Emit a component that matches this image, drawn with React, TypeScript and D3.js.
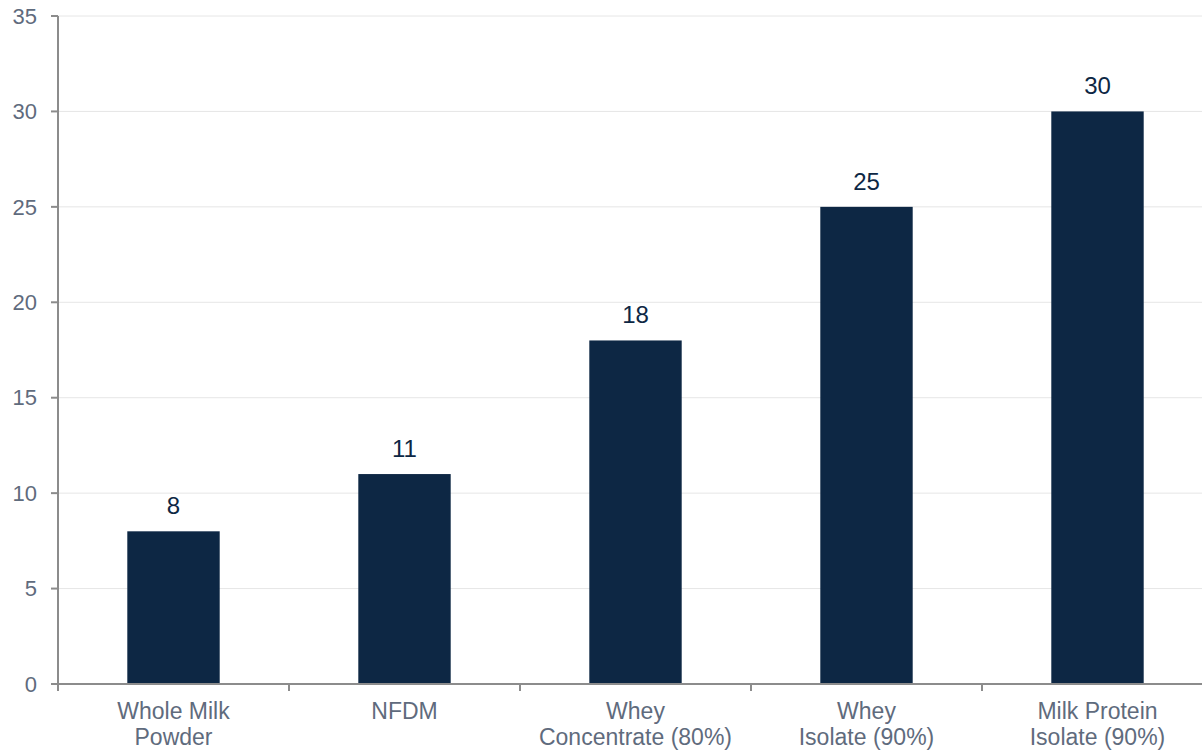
import { useEffect, useRef } from 'react';
import * as d3 from 'd3';

const categories = [
  ['Whole Milk', 'Powder'],
  ['NFDM'],
  ['Whey', 'Concentrate (80%)'],
  ['Whey', 'Isolate (90%)'],
  ['Milk Protein', 'Isolate (90%)'],
];
const values = [8, 11, 18, 25, 30];
const yTicks = [0, 5, 10, 15, 20, 25, 30, 35];

const W = 1202;
const H = 751;

export default function App() {
  const svgRef = useRef<SVGSVGElement>(null);

  useEffect(() => {
    if (!svgRef.current) return;
    const svg = d3.select(svgRef.current);
    svg.selectAll('*').remove();

    const left = 58;
    const top = 16;
    const bottom = 684;

    const keys = categories.map(c => c.join(' '));
    const x = d3.scaleBand<string>()
      .domain(keys)
      .range([left, left + 231 * 5])
      .paddingInner(0.6)
      .paddingOuter(0.3);
    const y = d3.scaleLinear().domain([0, 35]).range([bottom, top]);

    const font = 'Liberation Sans, Arial, sans-serif';
    const grey = '#5f6b7d';
    const axisCol = '#8c8c8c';

    // gridlines
    svg.append('g')
      .selectAll('line')
      .data(yTicks.filter(t => t > 0))
      .join('line')
      .attr('x1', left)
      .attr('x2', W)
      .attr('y1', d => y(d))
      .attr('y2', d => y(d))
      .attr('stroke', '#e6e6e6')
      .attr('stroke-width', 1);

    // bars
    svg.append('g')
      .selectAll('rect')
      .data(values)
      .join('rect')
      .attr('x', (d, i) => x(keys[i])!)
      .attr('y', d => y(d))
      .attr('width', x.bandwidth())
      .attr('height', d => y(0) - y(d))
      .attr('fill', '#0d2744');

    // value labels
    svg.append('g')
      .selectAll('text')
      .data(values)
      .join('text')
      .attr('x', (d, i) => x(keys[i])! + x.bandwidth() / 2)
      .attr('y', d => y(d) - 17)
      .attr('text-anchor', 'middle')
      .style('font-family', font)
      .style('font-size', '24px')
      .style('fill', '#0d2744')
      .text(d => d);

    // y axis
    svg.append('line')
      .attr('x1', left).attr('x2', left)
      .attr('y1', top).attr('y2', bottom)
      .attr('stroke', axisCol).attr('stroke-width', 2);
    svg.append('g')
      .selectAll('line')
      .data(yTicks)
      .join('line')
      .attr('x1', left - 7).attr('x2', left)
      .attr('y1', d => y(d)).attr('y2', d => y(d))
      .attr('stroke', axisCol).attr('stroke-width', 2);
    svg.append('g')
      .selectAll('text')
      .data(yTicks)
      .join('text')
      .attr('x', 37)
      .attr('y', d => y(d))
      .attr('dy', '0.35em')
      .attr('text-anchor', 'end')
      .style('font-family', font)
      .style('font-size', '22px')
      .style('fill', grey)
      .text(d => d);

    // x axis
    svg.append('line')
      .attr('x1', left).attr('x2', W)
      .attr('y1', bottom).attr('y2', bottom)
      .attr('stroke', axisCol).attr('stroke-width', 2);
    const step = x.step();
    svg.append('g')
      .selectAll('line')
      .data(d3.range(6))
      .join('line')
      .attr('x1', i => left + i * step)
      .attr('x2', i => left + i * step)
      .attr('y1', bottom).attr('y2', bottom + 7)
      .attr('stroke', axisCol).attr('stroke-width', 2);

    const lbl = svg.append('g')
      .selectAll('text')
      .data(categories)
      .join('text')
      .attr('x', (d, i) => x(keys[i])! + x.bandwidth() / 2)
      .attr('y', 719)
      .attr('text-anchor', 'middle')
      .style('font-family', font)
      .style('font-size', '23px')
      .style('fill', grey);
    lbl.selectAll('tspan')
      .data(d => d)
      .join('tspan')
      .attr('x', function () { return (this.parentNode as SVGTextElement).getAttribute('x'); })
      .attr('dy', (d, i) => (i === 0 ? 0 : 26))
      .text(d => d);
  }, []);

  return (
    <svg
      ref={svgRef}
      width={W}
      height={H}
      style={{ position: 'absolute', left: 0, top: 0, background: '#fff' }}
    />
  );
}
